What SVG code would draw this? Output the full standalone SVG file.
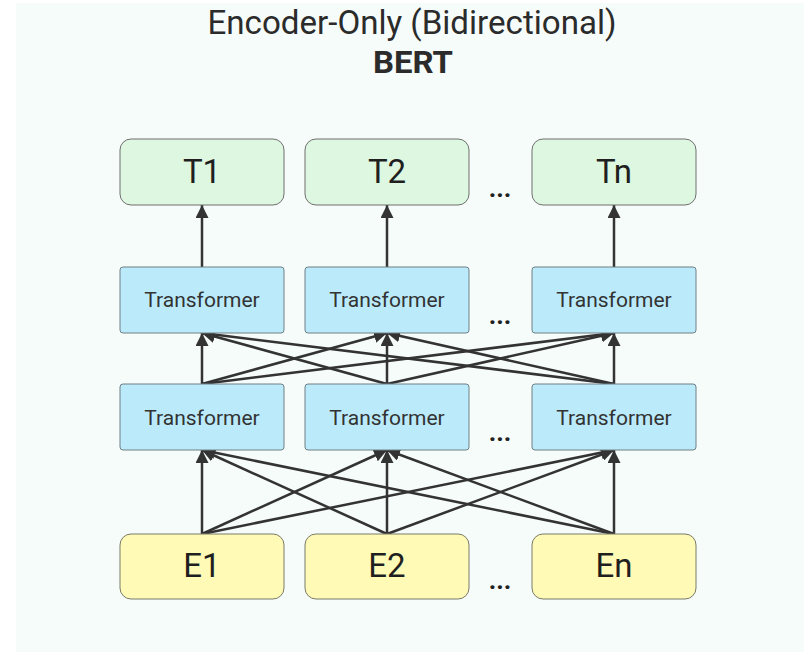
<svg xmlns="http://www.w3.org/2000/svg" width="808" height="655" viewBox="0 0 808 655">
  <style>
    .title { font-family: Roboto, "Liberation Sans", sans-serif; fill: #2b2b2b; text-anchor: middle; }
    .lbl { font-family: Roboto, "Liberation Sans", sans-serif; fill: #1f1f1f; text-anchor: middle; }
    .big { font-size: 33px; }
    .tf { font-size: 21px; fill: #333; }
    .out rect { fill: #def7e0; stroke: #6f6f6f; stroke-width: 1; }
    .blk rect { fill: #bbebfb; stroke: #6f7f86; stroke-width: 1; }
    .emb rect { fill: #fffab5; stroke: #7a7a6a; stroke-width: 1; }
    .dots { font-family: Roboto, "Liberation Sans", sans-serif; font-size: 26px; font-weight: bold; fill: #222; text-anchor: middle; }
    #connectors line { stroke: #333; stroke-width: 2.5; marker-end: url(#arrow); }
  </style>
  <defs>
    <marker id="arrow" markerUnits="userSpaceOnUse" markerWidth="15" markerHeight="13" refX="13" refY="6.5" orient="auto">
      <path d="M0,0 L13,6.5 L0,13 Z" fill="#333"/>
    </marker>
  </defs>

  <!-- page background -->
  <rect x="0" y="0" width="808" height="655" fill="#ffffff"/>
  <rect x="16" y="3" width="788" height="649" fill="#f6fcf9"/>

  <!-- heading -->
  <text class="title" x="412" y="34" font-size="34" textLength="409" lengthAdjust="spacingAndGlyphs">Encoder-Only (Bidirectional)</text>
  <text class="title" x="413" y="73" font-size="32" font-weight="bold" textLength="80" lengthAdjust="spacingAndGlyphs">BERT</text>

  <!-- connectors -->
  <g id="connectors">
    <!-- block 2 -> outputs -->
    <line x1="202" y1="267" x2="202" y2="205"/>
    <line x1="387" y1="267" x2="387" y2="205"/>
    <line x1="614" y1="267" x2="614" y2="205"/>
    <!-- layer 1 -> layer 2 (fully connected) -->
    <line x1="202" y1="384" x2="202" y2="333"/>
    <line x1="387" y1="384" x2="202" y2="333"/>
    <line x1="614" y1="384" x2="202" y2="333"/>
    <line x1="202" y1="384" x2="387" y2="333"/>
    <line x1="387" y1="384" x2="387" y2="333"/>
    <line x1="614" y1="384" x2="387" y2="333"/>
    <line x1="202" y1="384" x2="614" y2="333"/>
    <line x1="387" y1="384" x2="614" y2="333"/>
    <line x1="614" y1="384" x2="614" y2="333"/>
    <!-- embeddings -> layer 1 (fully connected) -->
    <line x1="202" y1="534" x2="202" y2="450"/>
    <line x1="387" y1="534" x2="202" y2="450"/>
    <line x1="614" y1="534" x2="202" y2="450"/>
    <line x1="202" y1="534" x2="387" y2="450"/>
    <line x1="387" y1="534" x2="387" y2="450"/>
    <line x1="614" y1="534" x2="387" y2="450"/>
    <line x1="202" y1="534" x2="614" y2="450"/>
    <line x1="387" y1="534" x2="614" y2="450"/>
    <line x1="614" y1="534" x2="614" y2="450"/>
  </g>

  <!-- output tokens -->
  <g id="T1" class="out"><rect x="120" y="139" width="164" height="66" rx="11"/><text class="lbl big" x="202" y="183">T1</text></g>
  <g id="T2" class="out"><rect x="305" y="139" width="164" height="66" rx="11"/><text class="lbl big" x="387" y="183">T2</text></g>
  <g id="Tn" class="out"><rect x="532" y="139" width="164" height="66" rx="11"/><text class="lbl big" x="614" y="183">Tn</text></g>
  <text class="dots" x="500" y="197">...</text>

  <!-- transformer layer 2 -->
  <g id="L2a" class="blk"><rect x="120" y="267" width="164" height="66" rx="3"/><text class="lbl tf" x="202" y="307">Transformer</text></g>
  <g id="L2b" class="blk"><rect x="305" y="267" width="164" height="66" rx="3"/><text class="lbl tf" x="387" y="307">Transformer</text></g>
  <g id="L2c" class="blk"><rect x="532" y="267" width="164" height="66" rx="3"/><text class="lbl tf" x="614" y="307">Transformer</text></g>
  <text class="dots" x="500" y="324">...</text>

  <!-- transformer layer 1 -->
  <g id="L1a" class="blk"><rect x="120" y="384" width="164" height="66" rx="3"/><text class="lbl tf" x="202" y="425">Transformer</text></g>
  <g id="L1b" class="blk"><rect x="305" y="384" width="164" height="66" rx="3"/><text class="lbl tf" x="387" y="425">Transformer</text></g>
  <g id="L1c" class="blk"><rect x="532" y="384" width="164" height="66" rx="3"/><text class="lbl tf" x="614" y="425">Transformer</text></g>
  <text class="dots" x="500" y="441">...</text>

  <!-- input embeddings -->
  <g id="E1" class="emb"><rect x="120" y="534" width="164" height="65" rx="11"/><text class="lbl big" x="202" y="577">E1</text></g>
  <g id="E2" class="emb"><rect x="305" y="534" width="164" height="65" rx="11"/><text class="lbl big" x="387" y="577">E2</text></g>
  <g id="En" class="emb"><rect x="532" y="534" width="164" height="65" rx="11"/><text class="lbl big" x="614" y="577">En</text></g>
  <text class="dots" x="500" y="589">...</text>
</svg>
